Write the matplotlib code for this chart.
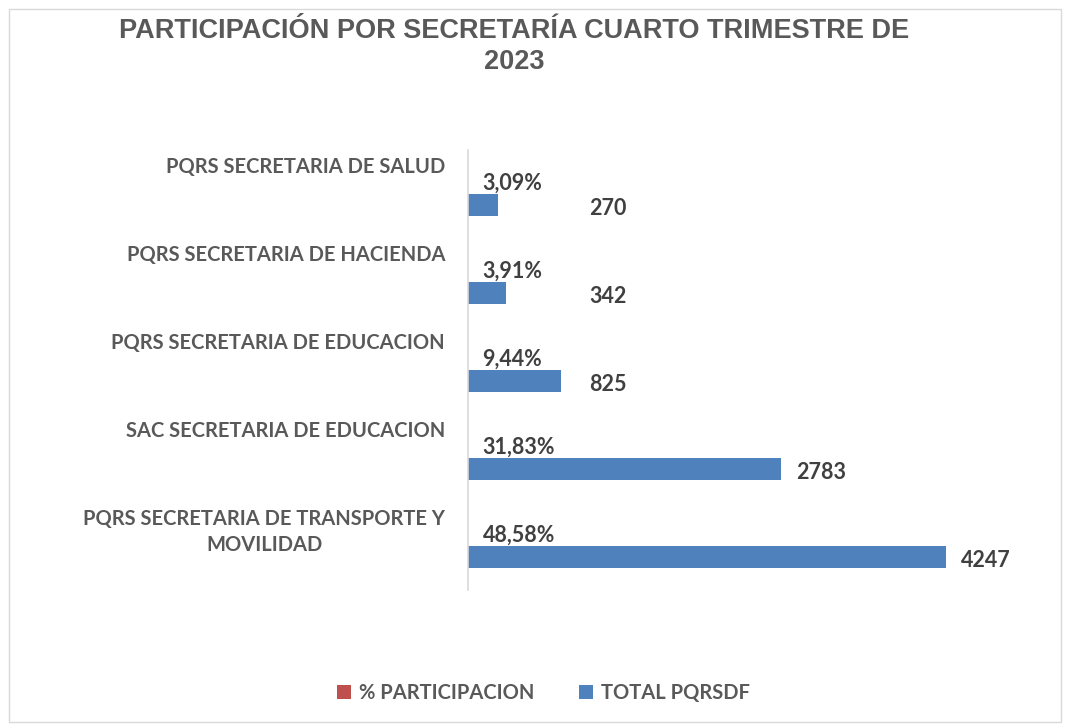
import matplotlib.pyplot as plt
from matplotlib.patches import Rectangle
import numpy as np

categories = [
    "PQRS SECRETARIA DE TRANSPORTE Y\nMOVILIDAD",
    "SAC SECRETARIA DE EDUCACION",
    "PQRS SECRETARIA DE EDUCACION",
    "PQRS SECRETARIA DE HACIENDA",
    "PQRS SECRETARIA DE SALUD",
]
total_pqrsdf = [4247, 2783, 825, 342, 270]
participacion = [0.4858, 0.3183, 0.0944, 0.0391, 0.0309]
pct_labels = ["48,58%", "31,83%", "9,44%", "3,91%", "3,09%"]

BLUE = "#4f81bd"
RED = "#c0504d"
DARK = "#404040"
GREY = "#595959"

plt.rcParams["font.family"] = ["Lato", "DejaVu Sans"]

fig = plt.figure(figsize=(10.65, 7.26), dpi=100)
fig.patches.append(Rectangle((0.008, 0.005), 0.988, 0.982, transform=fig.transFigure,
                             fill=False, edgecolor="#d9d9d9", linewidth=1.0))
ax = fig.add_axes([0.4394, 0.1873, 0.5286, 0.6061])

y = np.arange(len(categories))
h = 0.25
ax.barh(y - h / 2, total_pqrsdf, height=h, color=BLUE, label="TOTAL PQRSDF")
ax.barh(y + h / 2, participacion, height=h, color=RED, label="% PARTICIPACION")

ax.set_xlim(0, 5000)
ax.set_ylim(-0.5, len(categories) - 0.5)
ax.set_xticks([])
ax.set_yticks([])
for s in ["top", "right", "bottom"]:
    ax.spines[s].set_visible(False)
ax.spines["left"].set_color("#d9d9d9")
ax.spines["left"].set_linewidth(1.2)

for i, (v, p, lab) in enumerate(zip(total_pqrsdf, participacion, pct_labels)):
    # % participacion labels sit on the (tiny) red bars
    ax.annotate(lab, xy=(p, i + h / 2), xytext=(10.5, 0), textcoords="offset points",
                ha="left", va="center", fontsize=15.5, fontweight="bold", color=DARK)
    # totals, pushed clear of the short bars
    ax.annotate(str(v), xy=(max(v, 940), i - h / 2), xytext=(11, -2.5), textcoords="offset points",
                ha="left", va="center", fontsize=15.5, fontweight="bold", color=DARK)
    ax.annotate(categories[i], xy=(0, i + 0.42), xycoords=("axes fraction", "data"),
                xytext=(-16.5, 0), textcoords="offset points", ha="right", va="top",
                multialignment="center", fontsize=14.5, fontweight="bold", color=GREY,
                linespacing=1.4, annotation_clip=False)

fig.text(0.483, 0.975, "PARTICIPACIÓN POR SECRETARÍA CUARTO TRIMESTRE DE\n2023",
         ha="center", va="top", fontsize=19.5, fontweight="bold", color=GREY,
         family=["Liberation Sans", "DejaVu Sans"], linespacing=1.25)

handles, labels = ax.get_legend_handles_labels()
fig.legend(handles[::-1], labels[::-1], loc="center", bbox_to_anchor=(0.51, 0.046), ncol=2,
           frameon=False, handlelength=0.7, handleheight=0.7, handletextpad=0.4,
           columnspacing=2.2, prop={"size": 14.5, "weight": "bold"}, labelcolor=GREY)

fig.savefig("out.png", dpi=100)
